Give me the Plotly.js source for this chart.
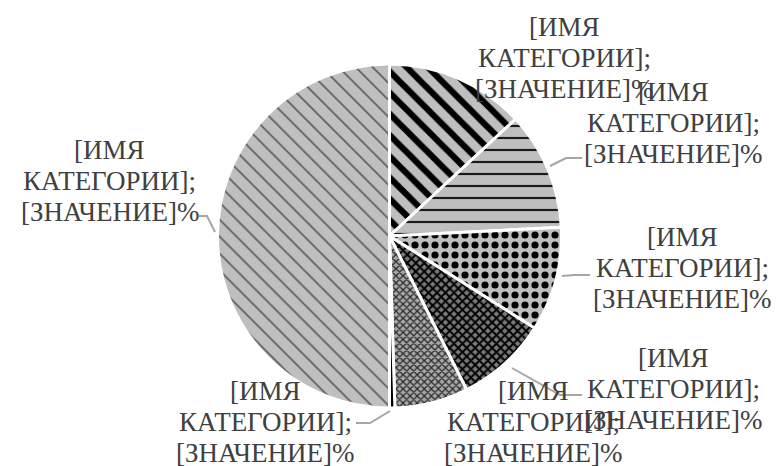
<!DOCTYPE html>
<html>
<head>
<meta charset="utf-8">
<script src="https://cdn.plot.ly/plotly-3.0.1.min.js"></script>
<style>html,body{margin:0;padding:0;background:#fff;}#chart{width:779px;height:466px;}</style>
</head>
<body>
<div id="chart"></div>
<script>
// ---- data ----
const sliceIds = ["s1", "s2", "s3", "s4", "s5", "s6", "s7"];
const values = [13.1, 11.1, 9.8, 8.6, 6.9, 0.5, 50.0];
const labelLines = ["[ИМЯ", "КАТЕГОРИИ];", "[ЗНАЧЕНИЕ]%"];

// ---- styling ----
const W = 779, H = 466;
const patShapes = ["\\", "-", ".", "x", "x", "", "\\"];
const patFg = ["#000000", "#1a1a1a", "#000000", "#000000", "#2a2a2a", "#000000", "#4a4a4a"];
const patBg = ["#bfbfbf", "#bfbfbf", "#bfbfbf", "#7a7a7a", "#a8a8a8", "#000000", "#bfbfbf"];
const patSize = [15, 12, 10, 6, 5, 8, 12];
const patSolid = [0.42, 0.18, 0.4, 0.55, 0.45, 0.3, 0.12];
const fillColors = ["#bfbfbf", "#bfbfbf", "#bfbfbf", "#7a7a7a", "#a8a8a8", "#000000", "#bfbfbf"];
const FONT = "Liberation Serif, Times New Roman, serif";
const FS = 27, LINE = 31;

// label centres (pixels, middle line) and leader paths (pixels)
const labelPos = [[564, 58], [673, 123], [682, 268], [673, 389], [533, 422], [265, 422], [110, 181]];
const leaders = [
  null,
  [[550, 166], [566, 158], [582, 158]],
  [[562, 276], [574, 275], [590, 275]],
  [[512, 368], [560, 395], [582, 395]],
  null,
  [[390, 411], [370, 423], [356, 423]],
  [[215, 232], [207, 216], [199, 216]]
];

const px = x => x / W;
const py = y => 1 - y / H;

const trace = {
  type: "pie",
  labels: sliceIds,
  values: values,
  sort: false,
  direction: "clockwise",
  rotation: 0,
  textinfo: "none",
  hoverinfo: "none",
  showlegend: false,
  domain: {x: [0, 1], y: [(H - 408) / H, (H - 64) / H]},
  marker: {
    colors: fillColors,
    line: {color: "#ffffff", width: 3},
    pattern: {
      shape: patShapes,
      fgcolor: patFg,
      bgcolor: patBg,
      size: patSize,
      solidity: patSolid,
      fillmode: "replace"
    }
  }
};

const annotations = [];
labelPos.forEach(p => {
  labelLines.forEach((t, k) => {
    annotations.push({
      xref: "paper", yref: "paper",
      x: px(p[0]), y: py(p[1] + (k - 1) * LINE),
      xanchor: "center", yanchor: "middle",
      text: t,
      showarrow: false,
      font: {family: FONT, size: FS, color: "#404040"}
    });
  });
});

const shapes = leaders.filter(l => l).map(l => ({
  type: "path", xref: "paper", yref: "paper",
  path: l.map((pt, i) => (i ? "L" : "M") + px(pt[0]) + "," + py(pt[1])).join(" "),
  line: {color: "#a6a6a6", width: 2}
}));

const layout = {
  width: W, height: H,
  margin: {l: 0, r: 0, t: 0, b: 0},
  paper_bgcolor: "#ffffff",
  font: {family: FONT},
  annotations: annotations,
  shapes: shapes
};

Plotly.newPlot("chart", [trace], layout, {displayModeBar: false, staticPlot: true});
</script>
</body>
</html>
